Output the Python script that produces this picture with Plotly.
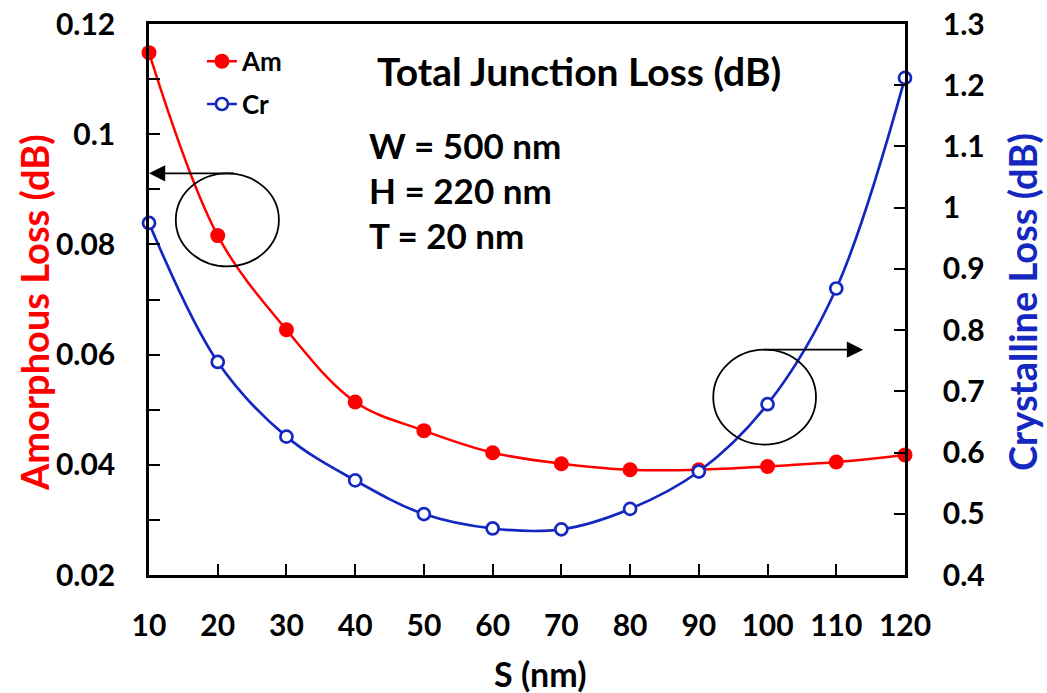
import plotly.graph_objects as go

# Junction separation S (nm)
s_nm = [10, 20, 30, 40, 50, 60, 70, 80, 90, 100, 110, 120]
# Amorphous-state loss (dB), left axis
am_loss = [0.1148, 0.0816, 0.0645, 0.0514, 0.0462, 0.0422, 0.0402, 0.0391, 0.0391, 0.0397, 0.0405, 0.0418]
# Crystalline-state loss (dB), right axis
cr_loss = [0.975, 0.748, 0.626, 0.5545, 0.4995, 0.476, 0.4746, 0.508, 0.569, 0.679, 0.868, 1.212]

x_ticks = s_nm
left_ticks = [0.02, 0.04, 0.06, 0.08, 0.1, 0.12]
left_labels = ["0.02", "0.04", "0.06", "0.08", "0.1", "0.12"]
right_ticks = [0.4, 0.5, 0.6, 0.7, 0.8, 0.9, 1.0, 1.1, 1.2, 1.3]
right_labels = ["0.4", "0.5", "0.6", "0.7", "0.8", "0.9", "1", "1.1", "1.2", "1.3"]

RED = "#FF0000"
BLUE = "#1428C0"
FONT = "Lato"

fig = go.Figure()
fig.add_trace(go.Scatter(
    x=s_nm, y=am_loss, name="Am", mode="lines+markers", legendgroup="am",
    line=dict(color=RED, width=2.5, shape="spline", smoothing=1.0),
    marker=dict(color=RED, size=15, line=dict(width=0)),
    cliponaxis=False, yaxis="y"))
fig.add_trace(go.Scatter(
    x=s_nm, y=cr_loss, name="Cr", mode="lines+markers", legendgroup="cr",
    line=dict(color=BLUE, width=2.7, shape="spline", smoothing=1.0),
    marker=dict(color="white", size=12, line=dict(color=BLUE, width=2.7)),
    cliponaxis=False, yaxis="y2"))

tickfont = dict(family=FONT, size=30, color="black", weight="bold")
axis_common = dict(ticks="inside", ticklen=11, tickwidth=2, tickcolor="black",
                   showline=True, linewidth=2.5, linecolor="black", automargin=False,
                   showgrid=False, zeroline=False, tickfont=tickfont)

fig.update_layout(
    width=1047, height=693,
    margin=dict(l=149, r=142, t=24, b=118, autoexpand=False),
    paper_bgcolor="white", plot_bgcolor="white",
    font=dict(family=FONT, color="black"),
    showlegend=True,
    legend=dict(x=0.07, y=0.975, xanchor="left", yanchor="top",
                bgcolor="rgba(0,0,0,0)", traceorder="grouped", tracegroupgap=6,
                font=dict(family=FONT, size=26, color="black", weight="bold"),
                itemwidth=30),
    xaxis=dict(range=[10, 120], tickvals=x_ticks, ticktext=[str(v) for v in x_ticks],
               mirror=True, ticklabelstandoff=22, **axis_common),
    yaxis=dict(range=[0.02, 0.12], tickvals=left_ticks, ticktext=left_labels,
               minor=dict(dtick=0.01, ticks="inside", ticklen=11, tickwidth=2, tickcolor="black"),
               ticklabelstandoff=25, **axis_common),
    yaxis2=dict(range=[0.4, 1.3], tickvals=right_ticks, ticktext=right_labels,
                overlaying="y", side="right", ticklabelstandoff=29, **axis_common),
)

# Axis titles
fig.add_annotation(x=0.5172, y=-0.178, xref="paper", yref="paper", showarrow=False,
                   text="S (nm)", xanchor="center", yanchor="middle",
                   font=dict(family=FONT, size=34, color="black", weight="bold"))
fig.add_annotation(x=-0.152, y=0.4755, xref="paper", yref="paper", showarrow=False,
                   text="Amorphous Loss (dB)", textangle=-90, xanchor="center", yanchor="middle",
                   font=dict(family=FONT, size=38, color=RED, weight="bold"))
fig.add_annotation(x=1.1548, y=0.4955, xref="paper", yref="paper", showarrow=False,
                   text="Crystalline Loss (dB)", textangle=-90, xanchor="center", yanchor="middle",
                   font=dict(family=FONT, size=38, color=BLUE, weight="bold"))

# Chart title and geometry parameters inside the plot
fig.add_annotation(x=0.5688, y=0.9147, xref="paper", yref="paper", showarrow=False,
                   text="Total Junction Loss (dB)", xanchor="center", yanchor="middle",
                   font=dict(family=FONT, size=39, color="black", weight="bold"))
for txt, yy in [("W = 500 nm", 0.7804), ("H = 220 nm", 0.6987), ("T = 20 nm", 0.617)]:
    fig.add_annotation(x=0.2884, y=yy, xref="paper", yref="paper", showarrow=False,
                       text=txt, xanchor="left", yanchor="middle",
                       font=dict(family=FONT, size=35, color="black", weight="bold"))

# Ellipses marking which axis each curve belongs to
fig.add_shape(type="circle", xref="x", yref="y", x0=13.9, x1=28.9, y0=0.076, y1=0.0929,
              line=dict(color="black", width=1.8))
fig.add_shape(type="circle", xref="x", yref="y2", x0=92.1, x1=107.05, y0=0.613, y1=0.768,
              line=dict(color="black", width=1.8))

# Arrows pointing to the matching axes
fig.add_annotation(x=10, y=0.0929, xref="x", yref="y", ax=22.6, ay=0.0929,
                   axref="x", ayref="y", showarrow=True, arrowhead=2, arrowsize=1.8,
                   arrowwidth=1.8, arrowcolor="black", text="")
fig.add_annotation(x=113.9, y=0.768, xref="x", yref="y2", ax=99.3, ay=0.768,
                   axref="x", ayref="y2", showarrow=True, arrowhead=2, arrowsize=1.8,
                   arrowwidth=1.8, arrowcolor="black", text="")

fig.write_html("out.html")
